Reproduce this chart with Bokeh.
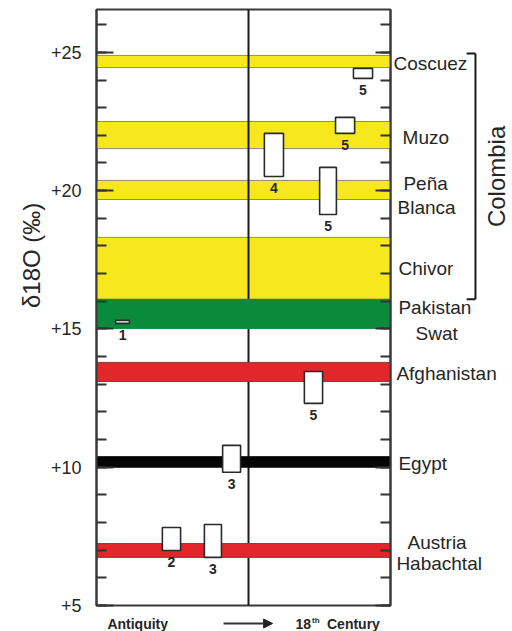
import math
from bokeh.plotting import figure
from bokeh.layouts import row, column
from bokeh.models import (Range1d, LinearAxis, SingleIntervalTicker, Arrow,
                          NormalHead, ColumnDataSource)
from bokeh.embed import file_html
from bokeh.resources import INLINE
from bokeh.core.properties import value

# ---------------- data ----------------
# delta-18O ranges of the emerald deposits (horizontal bands)
band_sites = ["Coscuez", "Muzo", "Peña Blanca", "Chivor", "Pakistan Swat",
              "Afghanistan", "Egypt", "Austria Habachtal"]
band_low = [24.45, 21.52, 19.68, 16.07, 15.02, 13.10, 10.00, 6.74]
band_high = [24.89, 22.50, 20.37, 18.31, 16.07, 13.79, 10.38, 7.24]
band_kind = ["Colombia", "Colombia", "Colombia", "Colombia", "Pakistan",
             "Afghanistan", "Egypt", "Austria"]

# historical emeralds (boxes): time position (antiquity -> 18th century) and d18O range
box_ref = ["5", "5", "4", "5", "1", "5", "3", "2", "3"]
box_t0 = [8.74, 8.13, 5.71, 7.59, 0.65, 7.07, 4.29, 2.24, 3.67]
box_t1 = [9.39, 8.78, 6.36, 8.16, 1.12, 7.69, 4.90, 2.86, 4.25]
box_low = [24.06, 22.07, 20.51, 19.14, 15.20, 12.31, 9.82, 6.99, 6.74]
box_high = [24.42, 22.65, 22.07, 20.84, 15.31, 13.46, 10.79, 7.82, 7.93]

# site name labels (right of the chart)
site_text = ["Coscuez", "Muzo", "Peña", "Blanca", "Chivor", "Pakistan", "Swat",
             "Afghanistan", "Egypt", "Austria", "Habachtal"]
site_y = [24.60, 21.92, 20.26, 19.39, 17.19, 15.78, 14.84, 13.39, 10.14, 7.28, 6.52]
site_t = [10.10, 10.41, 10.44, 10.24, 10.27, 10.27, 10.85, 10.20, 10.27, 10.58, 10.20]

y_ticks = [5, 10, 15, 20, 25]
y_tick_labels = ["+5", "+10", "+15", "+20", "+25"]
y_title = "δ18O (‰)"
era_divider = 5.17
colombia_top, colombia_bottom = 24.96, 16.07

# ---------------- styles ----------------
kind_color = {"Colombia": "#f7e81e", "Pakistan": "#0b8a3c", "Afghanistan": "#e3262a",
              "Egypt": "#050505", "Austria": "#e3262a"}
kind_edge = {"Colombia": "#8c8c70", "Pakistan": "#0b8a3c", "Afghanistan": "#8a3a3a",
             "Egypt": "#050505", "Austria": "#8a3a3a"}
FONT = "Liberation Sans"
INK = "#262626"

# shared scales: time axis 0..10 over the main frame, d18O 5..26.55
PX_T = 29.4          # pixels per time unit
PX_Y = 27.66         # pixels per permil
y_rng = Range1d(5, 26.55)
x_rng = Range1d(0, 10)
TOP = 9              # border above the frames
FRAME_H = 596
MAIN_BOT = 10        # border below the main frame (room for "+5")
STRIP_H = 16         # strip under the main panel (time direction)
H = TOP + FRAME_H + MAIN_BOT + STRIP_H   # 631
BOT = H - TOP - FRAME_H
W_LEFT, W_MAIN_L, W_FRAME, W_MAIN_R = 46, 50, 294, 2
W_RIGHT = 512 - W_LEFT - W_MAIN_L - W_FRAME - W_MAIN_R


def bare(fig):
    fig.xgrid.grid_line_color = None
    fig.ygrid.grid_line_color = None
    fig.outline_line_color = None
    fig.background_fill_color = "white"
    fig.border_fill_color = "white"
    return fig


# ---------- main panel ----------
p = bare(figure(width=W_MAIN_L + W_FRAME + W_MAIN_R, height=TOP + FRAME_H + MAIN_BOT,
                output_backend="svg", toolbar_location=None,
                x_range=x_rng, y_range=y_rng, x_axis_location=None,
                min_border_left=W_MAIN_L, min_border_right=W_MAIN_R,
                min_border_top=TOP, min_border_bottom=MAIN_BOT))
p.outline_line_color = "#3a3a3a"
p.outline_line_width = 2


def style_axis(ax, tick_in, show_labels):
    ax.ticker = SingleIntervalTicker(interval=5, num_minor_ticks=5)
    ax.major_tick_in = tick_in
    ax.major_tick_out = 0
    ax.minor_tick_in = 10
    ax.minor_tick_out = 0
    ax.major_tick_line_width = 2
    ax.minor_tick_line_width = 2
    ax.major_tick_line_color = "#333333"
    ax.minor_tick_line_color = "#333333"
    ax.axis_line_color = "#3a3a3a"
    ax.axis_line_width = 2
    ax.major_label_text_font = FONT
    ax.major_label_text_font_size = "18px"
    ax.major_label_text_color = INK
    if show_labels:
        ax.major_label_overrides = dict(zip(y_ticks, y_tick_labels))
        ax.major_label_standoff = 15
    else:
        ax.major_label_overrides = {t: "" for t in y_ticks}
        ax.major_label_standoff = 0


style_axis(p.yaxis[0], 17, True)
right_axis = LinearAxis()
style_axis(right_axis, 15, False)
p.add_layout(right_axis, "right")

col_idx = [i for i, k in enumerate(band_kind) if k == "Colombia"]
oth_idx = [i for i, k in enumerate(band_kind) if k != "Colombia"]


def band_source(idx):
    return ColumnDataSource(dict(
        left=[x_rng.start] * len(idx), right=[x_rng.end] * len(idx),
        bottom=[band_low[i] for i in idx], top=[band_high[i] for i in idx],
        color=[kind_color[band_kind[i]] for i in idx],
        edge=[kind_edge[band_kind[i]] for i in idx]))


# yellow (Colombian) bands lie under the era divider, the others over it
p.quad(left="left", right="right", bottom="bottom", top="top", fill_color="color",
       line_color="edge", line_width=1, source=band_source(col_idx))
p.segment(x0=[era_divider], y0=[y_rng.start], x1=[era_divider], y1=[y_rng.end],
          line_color="#1a1a1a", line_width=2)
p.quad(left="left", right="right", bottom="bottom", top="top", fill_color="color",
       line_color="edge", line_width=1, source=band_source(oth_idx))

box_src = ColumnDataSource(dict(
    left=box_t0, right=box_t1, bottom=box_low, top=box_high, ref=box_ref,
    cx=[(a + b) / 2 for a, b in zip(box_t0, box_t1)],
    ly=[lo - 0.42 for lo in box_low]))
p.quad(left="left", right="right", bottom="bottom", top="top", fill_color="white",
       line_color="#2a2a2a", line_width=1.6, source=box_src)
p.text(x="cx", y="ly", text="ref", source=box_src, text_align="center",
       text_baseline="middle", text_font=value(FONT), text_font_style="bold",
       text_font_size="14px", text_color=INK)

# ---------- left panel (axis title) ----------
left_x = Range1d(-(W_LEFT + W_MAIN_L) / PX_T, -W_MAIN_L / PX_T)
pl = bare(figure(width=W_LEFT, height=H, output_backend="svg", toolbar_location=None,
                 x_range=left_x, y_range=y_rng, x_axis_location=None, y_axis_location=None,
                 min_border_left=0, min_border_right=0, min_border_top=TOP,
                 min_border_bottom=BOT))
pl.text(x=[-2.20], y=[17.66], text=[y_title], angle=math.pi / 2, text_align="center",
        text_baseline="middle", text_font=value(FONT), text_font_size="24px",
        text_color=INK)

# ---------- right panel (site names, Colombia bracket) ----------
right_x = Range1d(x_rng.end + W_MAIN_R / PX_T, x_rng.end + (W_MAIN_R + W_RIGHT) / PX_T)
pr = bare(figure(width=W_RIGHT, height=H, output_backend="svg", toolbar_location=None,
                 x_range=right_x, y_range=y_rng, x_axis_location=None, y_axis_location=None,
                 min_border_left=0, min_border_right=0, min_border_top=TOP,
                 min_border_bottom=BOT))
pr.text(x=site_t, y=site_y, text=site_text, text_align="left", text_baseline="middle",
        text_font=value(FONT), text_font_size="19px", text_color=INK)
bx, hook = 12.89, 12.59
pr.segment(x0=[bx, hook, hook], y0=[colombia_top, colombia_top, colombia_bottom],
           x1=[bx, bx, bx], y1=[colombia_bottom, colombia_top, colombia_bottom],
           line_color="#1a1a1a", line_width=2)
pr.text(x=[13.61], y=[(colombia_top + colombia_bottom) / 2], text=["Colombia"],
        angle=math.pi / 2, text_align="center", text_baseline="middle",
        text_font=value(FONT), text_font_size="24px", text_color=INK)

# ---------- bottom strip (time direction) ----------
strip_top = y_rng.start - MAIN_BOT / PX_Y
pb_y = Range1d(strip_top - STRIP_H / PX_Y, strip_top)
pb = bare(figure(width=W_MAIN_L + W_FRAME + W_MAIN_R, height=STRIP_H,
                 output_backend="svg", toolbar_location=None,
                 x_range=x_rng, y_range=pb_y, x_axis_location=None, y_axis_location=None,
                 min_border_left=W_MAIN_L, min_border_right=W_MAIN_R,
                 min_border_top=0, min_border_bottom=0))
ty = (pb_y.start + pb_y.end) / 2
pb.text(x=[0.37, 6.77, 7.84], y=[ty, ty, ty], text=["Antiquity", "18", "Century"],
        text_align="left", text_baseline="middle", text_font=value(FONT),
        text_font_style="bold", text_font_size="14px", text_color=INK)
pb.text(x=[7.33], y=[ty + 0.12], text=["th"], text_align="left", text_baseline="middle",
        text_font=value(FONT), text_font_style="bold", text_font_size="8px",
        text_color=INK)
pb.add_layout(Arrow(end=NormalHead(size=9, fill_color="#222222", line_color="#222222"),
                    x_start=4.32, y_start=ty, x_end=5.99, y_end=ty,
                    line_color="#333333", line_width=2))

layout = row(pl, column(p, pb), pr)
open("out.html", "w").write(file_html(layout, INLINE))
